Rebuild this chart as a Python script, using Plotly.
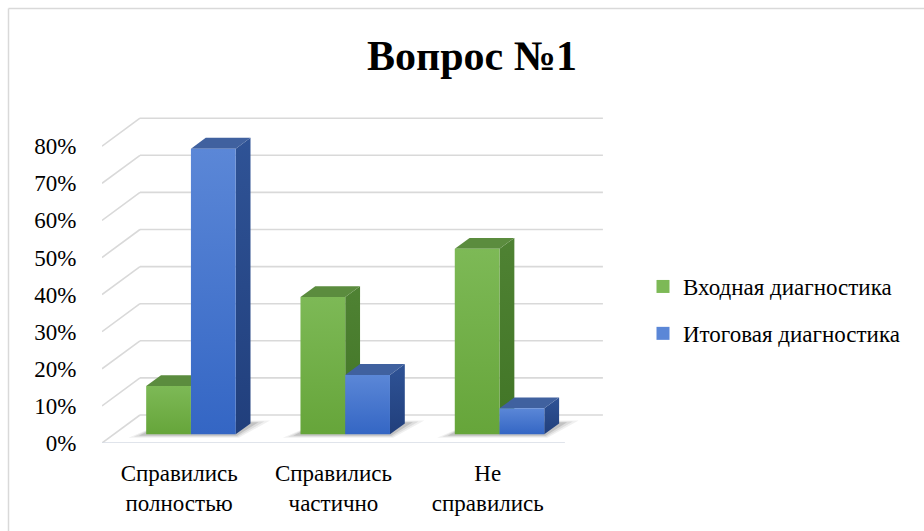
import plotly.graph_objects as go

# ---- data -------------------------------------------------------------
categories = ["Справились<br>полностью", "Справились<br>частично", "Не<br>справились"]
series_names = ["Входная диагностика", "Итоговая диагностика"]
entry_values = [0.13, 0.37, 0.50]   # Входная диагностика
final_values = [0.77, 0.16, 0.07]   # Итоговая диагностика
y_ticks = [0.0, 0.1, 0.2, 0.3, 0.4, 0.5, 0.6, 0.7, 0.8]
y_tick_labels = ["0%", "10%", "20%", "30%", "40%", "50%", "60%", "70%", "80%"]

# ---- page / pseudo-3D geometry -----------------------------------------
W, H = 924, 531
M_L, M_R, M_T, M_B = 102, 316, 116, 88
PX_CAT = 154.3           # pixels per category on the front plane
PX_UNIT = 371.0          # pixels per 100 % on the value axis
PLOT_W = W - M_L - M_R
PLOT_H = H - M_T - M_B
X_LO = -0.5
X_HI = X_LO + PLOT_W / PX_CAT
Y_HI = PLOT_H / PX_UNIT

DEPTH_X = 38 / PX_CAT    # oblique depth vector, expressed in axis units
DEPTH_Y = 28 / PX_UNIT
Z_FRONT, Z_BACK = 0.31, 0.70
BAR_W = 0.29
N_CAT = len(categories)

FONT = "Liberation Serif"
TICK_SIZE = 23
LEGEND_SIZE = 23
GRID = "#d9d9d9"

COLORS = {
    0: dict(front=("#66a53a", "#7db956"), side=("#417526", "#4f8233"), top="#5b8c3e"),
    1: dict(front=("#3466c4", "#5b87d7"), side=("#213f7c", "#2f5396"), top="#40619f"),
}


def proj(x, y, z):
    return x + z * DEPTH_X, y + z * DEPTH_Y


def poly(points, **kw):
    xs = [p[0] for p in points] + [points[0][0]]
    ys = [p[1] for p in points] + [points[0][1]]
    return go.Scatter(x=xs, y=ys, mode="lines", fill="toself",
                      line=dict(width=0), hoverinfo="skip",
                      showlegend=False, **kw)


fig = go.Figure()

# soft floor shadows under each group
for i in range(N_CAT):
    gx0 = i - BAR_W
    gx1 = i + BAR_W
    for k, a in enumerate([0.06, 0.08, 0.12]):
        ex = 0.085 - k * 0.025
        zf = Z_FRONT - 0.12 + k * 0.035
        zb = Z_BACK + 0.1 - k * 0.03
        pts = [proj(gx0 - ex, 0, zf), proj(gx1 + ex * 0.6, 0, zf),
               proj(gx1 + ex * 1.2, 0, zb), proj(gx0 + ex * 0.3, 0, zb)]
        fig.add_trace(poly(pts, fillcolor=f"rgba(0,0,0,{a})"))

# bars: side, top and front faces, painted back to front
for i in range(N_CAT):
    for s, values in enumerate([entry_values, final_values]):
        v = values[i]
        x0 = i - BAR_W + s * BAR_W
        x1 = x0 + BAR_W
        c = COLORS[s]
        side = [proj(x1, 0, Z_FRONT), proj(x1, v, Z_FRONT),
                proj(x1, v, Z_BACK), proj(x1, 0, Z_BACK)]
        fig.add_trace(poly(side, fillgradient=dict(
            type="vertical", colorscale=[[0, c["side"][0]], [1, c["side"][1]]])))
        top = [proj(x0, v, Z_FRONT), proj(x1, v, Z_FRONT),
               proj(x1, v, Z_BACK), proj(x0, v, Z_BACK)]
        fig.add_trace(poly(top, fillcolor=c["top"]))
        front = [proj(x0, 0, Z_FRONT), proj(x1, 0, Z_FRONT),
                 proj(x1, v, Z_FRONT), proj(x0, v, Z_FRONT)]
        fig.add_trace(poly(front, fillgradient=dict(
            type="vertical", colorscale=[[0, c["front"][0]], [1, c["front"][1]]])))

# legend entries
for s, name in enumerate(series_names):
    fig.add_trace(go.Scatter(x=[None], y=[None], mode="markers", name=name,
                             legendgroup=f"g{s}",
                             marker=dict(symbol="square", size=13,
                                         color=COLORS[s]["front"][1])))

# walls: side-wall diagonals, back-wall gridlines and the floor front edge
shapes = []
for t in y_ticks:
    fx, fy = proj(X_LO, t, 0)
    bx, by = proj(X_LO, t, 1)
    ex, _ = proj(X_LO + N_CAT, t, 1)
    shapes.append(dict(type="line", x0=fx, y0=fy, x1=bx, y1=by,
                       line=dict(color=GRID, width=1.6), layer="below"))
    shapes.append(dict(type="line", x0=bx, y0=by, x1=ex, y1=by,
                       line=dict(color=GRID, width=1.6), layer="below"))
shapes.append(dict(type="line", x0=X_LO, y0=0, x1=X_LO + N_CAT, y1=0,
                   line=dict(color="#d6dbe4", width=1.6), layer="below"))

# outer frame of the chart area
def px_to_paper_x(px):
    return (px - M_L) / PLOT_W


def px_to_paper_y(py):
    return 1 - (py - M_T) / PLOT_H


shapes.append(dict(type="line", xref="paper", yref="paper",
                   x0=px_to_paper_x(8.5), y0=px_to_paper_y(8.5),
                   x1=px_to_paper_x(940), y1=px_to_paper_y(8.5),
                   line=dict(color="#d9d9d9", width=1.5)))
shapes.append(dict(type="line", xref="paper", yref="paper",
                   x0=px_to_paper_x(8.5), y0=px_to_paper_y(8.5),
                   x1=px_to_paper_x(8.5), y1=px_to_paper_y(545),
                   line=dict(color="#d9d9d9", width=1.5)))

fig.update_layout(
    width=W, height=H,
    margin=dict(l=M_L, r=M_R, t=M_T, b=M_B, pad=0, autoexpand=False),
    paper_bgcolor="white", plot_bgcolor="white",
    font=dict(family=FONT, color="#000000", size=TICK_SIZE),
    title=dict(text="<b>Вопрос №1</b>", x=472 / W, xanchor="center",
               y=1 - 55 / H, yanchor="middle", xref="container",
               yref="container",
               font=dict(family=FONT, size=42, color="#000000")),
    xaxis=dict(range=[X_LO, X_HI], tickvals=list(range(N_CAT)),
               ticktext=categories, showgrid=False, zeroline=False,
               showline=False, ticks="outside", ticklen=9,
               tickcolor="rgba(0,0,0,0)",
               tickfont=dict(family=FONT, size=TICK_SIZE, color="#000000"),
               fixedrange=True),
    yaxis=dict(range=[0, Y_HI], tickvals=y_ticks, ticktext=y_tick_labels,
               showgrid=False, zeroline=False, showline=False,
               ticks="outside", ticklen=20, tickcolor="rgba(0,0,0,0)",
               tickfont=dict(family=FONT, size=TICK_SIZE, color="#000000"),
               fixedrange=True),
    legend=dict(x=px_to_paper_x(643), xanchor="left",
                y=px_to_paper_y(310), yanchor="middle",
                traceorder="grouped", tracegroupgap=14,
                font=dict(family=FONT, size=LEGEND_SIZE, color="#000000"),
                bgcolor="rgba(0,0,0,0)", itemclick=False,
                itemdoubleclick=False),
    shapes=shapes,
    showlegend=True,
)

fig.write_html("out.html")
